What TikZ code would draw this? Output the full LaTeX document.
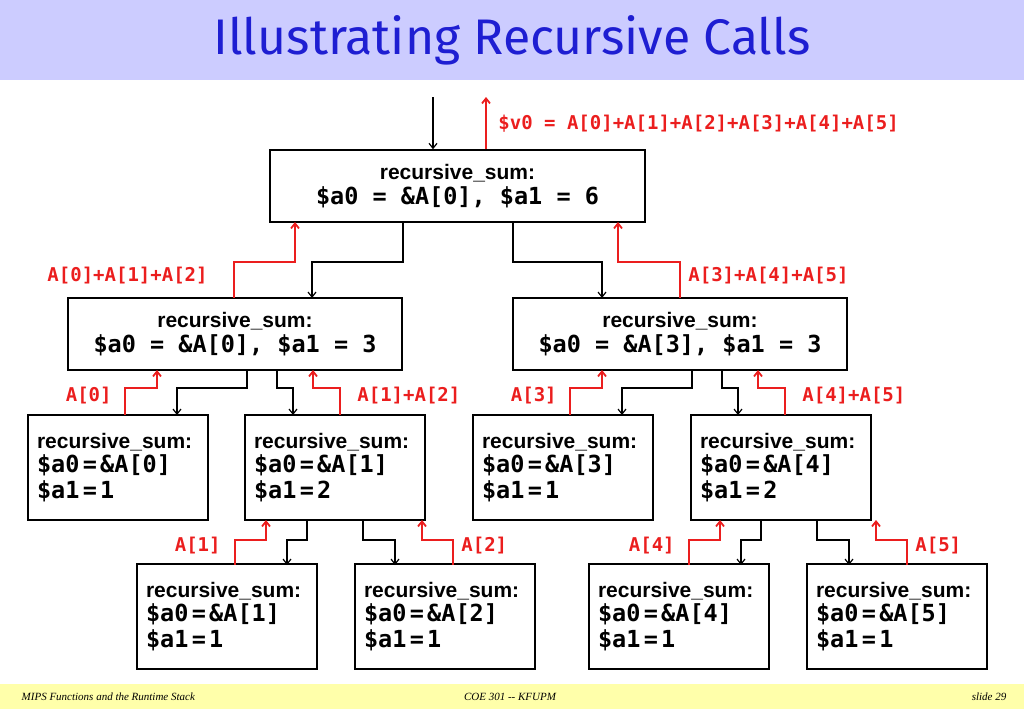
\documentclass[tikz,border=0pt]{standalone}
\usepackage{fontspec}
\setmainfont{Liberation Sans}
\newfontfamily\codefont{DejaVu Sans Mono}
\newfontfamily\titlefont{Fira Sans}
\newfontfamily\footfont{Liberation Serif}
\usetikzlibrary{calc,arrows.meta}
\definecolor{titleblue}{RGB}{30,30,210}
\definecolor{bandblue}{RGB}{204,204,255}
\definecolor{bandyellow}{RGB}{255,255,170}
\definecolor{retred}{RGB}{235,30,30}
\tikzset{every picture/.style={line width=0.75pt}}
\tikzset{
  callbox/.style={draw,line width=1.5pt,inner xsep=9pt,inner ysep=0pt,text width=162,minimum height=105,align=left},
  widebox/.style={draw,line width=1.5pt,inner sep=0pt,minimum height=72,align=center},
  callarrow/.style={line width=1.2pt,-{Straight Barb[length=5pt,width=8pt]}},
  retarrow/.style={retred,line width=1.8pt,-{Straight Barb[length=5pt,width=8pt]}},
  retlabel/.style={retred,font=\codefont\bfseries\fontsize{19}{19}\selectfont,inner sep=0pt}
}
\newcommand{\rs}{\fontsize{21}{21}\selectfont\bfseries recursive\_sum:}
\newcommand{\cd}[1]{{\codefont\bfseries\fontsize{23.5}{23.5}\selectfont #1}}
\begin{document}
\begin{tikzpicture}[x=1pt,y=-1pt]
		\useasboundingbox (0,0) rectangle (1024,709);
		% bands
		\fill[bandblue] (0,0) rectangle (1024,80);
		\fill[bandyellow] (0,684) rectangle (1024,709);
		\node (title) at (512,40) {\titlefont\fontsize{50}{50}\selectfont\color{titleblue}Illustrating Recursive Calls};
		\node[anchor=west] (fl) at (18,697) {\footfont\itshape\fontsize{11}{11}\selectfont MIPS Functions and the Runtime Stack};
		\node (fc) at (510,697) {\footfont\itshape\fontsize{11}{11}\selectfont COE 301 -- KFUPM};
		\node[anchor=east] (fr) at (1010,697) {\footfont\itshape\fontsize{11}{11}\selectfont slide 29};

		% boxes
		\node[widebox,minimum width=375] (r) at (457.5,186) {\rs\\[4pt]\cd{\$a0 = \&A[0], \$a1 = 6}};
		\node[widebox,minimum width=334] (l) at (235,334) {\rs\\[4pt]\cd{\$a0 = \&A[0], \$a1 = 3}};
		\node[widebox,minimum width=334] (rr) at (680,334) {\rs\\[4pt]\cd{\$a0 = \&A[3], \$a1 = 3}};
		\node[callbox] (a) at (118,467.5) {\rs\\[3pt]\cd{\$a0 = \&A[0]}\\[3pt]\cd{\$a1 = 1}};
		\node[callbox] (b) at (335,467.5) {\rs\\[3pt]\cd{\$a0 = \&A[1]}\\[3pt]\cd{\$a1 = 2}};
		\node[callbox] (c) at (563,467.5) {\rs\\[3pt]\cd{\$a0 = \&A[3]}\\[3pt]\cd{\$a1 = 1}};
		\node[callbox] (d) at (781,467.5) {\rs\\[3pt]\cd{\$a0 = \&A[4]}\\[3pt]\cd{\$a1 = 2}};
		\node[callbox] (e) at (227,616.5) {\rs\\[3pt]\cd{\$a0 = \&A[1]}\\[3pt]\cd{\$a1 = 1}};
		\node[callbox] (f) at (445,616.5) {\rs\\[3pt]\cd{\$a0 = \&A[2]}\\[3pt]\cd{\$a1 = 1}};
		\node[callbox] (g) at (679,616.5) {\rs\\[3pt]\cd{\$a0 = \&A[4]}\\[3pt]\cd{\$a1 = 1}};
		\node[callbox] (h) at (897,616.5) {\rs\\[3pt]\cd{\$a0 = \&A[5]}\\[3pt]\cd{\$a1 = 1}};

		% root call and return
		\coordinate (in) at (433,97);
		\coordinate (out) at (486,97);
		\draw[callarrow] (in) -- (in |- r.north);
		\draw[retarrow] (out |- r.north) -- (out);
		\node[retlabel,anchor=west] (v0) at (498,124) {\$v0 = A[0]+A[1]+A[2]+A[3]+A[4]+A[5]};

		% level 1
		\draw[callarrow] (403,222) |- (312,262) -- (312 ,298);
		\draw[retarrow] (234,298) |- (295,262) -- (295,222);
		\node[retlabel,anchor=east] (s1) at (208,276) {A[0]+A[1]+A[2]};
		\draw[callarrow] (513,222) |- (602,262) -- (602,298);
		\draw[retarrow] (680,298) |- (618,262) -- (618,222);
		\node[retlabel,anchor=west] (s2) at (688,276) {A[3]+A[4]+A[5]};

		% level 2
		\foreach \dx/\nm/\la/\lb in {0/p/A[0]/A[1]+A[2], 445/q/A[3]/A[4]+A[5]} {
		  \draw[callarrow] (247+\dx,370) |- (177+\dx,388) -- (177+\dx,415);
		  \draw[retarrow] (125+\dx,415) |- (157+\dx,388) -- (157+\dx,370);
		  \draw[callarrow] (277+\dx,370) |- (293+\dx,388) -- (293+\dx,415);
		  \draw[retarrow] (340+\dx,415) |- (313+\dx,388) -- (313+\dx,370);
		  \node[retlabel,anchor=east] (\nm a) at (112+\dx,396) {\la};
		  \node[retlabel,anchor=west] (\nm b) at (357+\dx,396) {\lb};
		}

		% level 3
		\foreach \dx/\nm/\la/\lb in {0/u/A[1]/A[2], 454/w/A[4]/A[5]} {
		  \draw[retarrow] (235+\dx,565) |- (266+\dx,540) -- (266+\dx,520);
		  \draw[callarrow] (307+\dx,520) |- (287+\dx,540) -- (287+\dx,565);
		  \draw[callarrow] (363+\dx,520) |- (395+\dx,540) -- (395+\dx,565);
		  \draw[retarrow] (453+\dx,565) |- (422+\dx,540) -- (422+\dx,520);
		  \node[retlabel,anchor=east] (\nm a) at (221+\dx,546) {\la};
		  \node[retlabel,anchor=west] (\nm b) at (461+\dx,546) {\lb};
		}
\end{tikzpicture}
\end{document}
